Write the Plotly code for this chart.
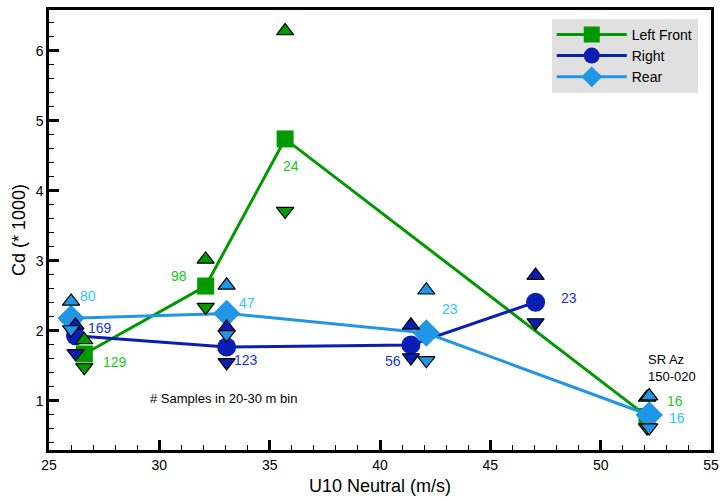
import plotly.graph_objects as go

# ---- data ----
lf_x = [26.6, 32.1, 35.7, 52.1]
lf_y = [1.67, 2.64, 4.74, 0.78]
lf_hi = [1.87, 3.02, 6.28, 1.05]
lf_lo = [1.48, 2.34, 3.71, 0.62]
lf_n = [129, 98, 24, 16]

rt_x = [26.2, 33.05, 41.4, 47.05]
rt_y = [1.93, 1.77, 1.80, 2.41]
rt_hi = [2.08, 2.05, 2.08, 2.79]
rt_lo = [1.68, 1.55, 1.62, 2.12]
rt_n = [169, 123, 56, 23]

rr_x = [26.0, 33.05, 42.1, 52.2]
rr_y = [2.18, 2.25, 1.97, 0.80]
rr_hi = [2.42, 2.65, 2.58, 1.07]
rr_lo = [2.02, 1.95, 1.58, 0.62]
rr_n = [80, 47, 23, 16]

x_ticks = [25, 30, 35, 40, 45, 50, 55]
y_ticks = [1, 2, 3, 4, 5, 6]

GREEN = "#009900"
DBLUE = "#0a1eb4"
LBLUE = "#2196e6"
GREEN_T = "#22c422"
DBLUE_T = "#2233cc"
LBLUE_T = "#1ec8ff"

FONT = "Liberation Sans, Arial, sans-serif"

series = [
    ("Left Front", lf_x, lf_y, lf_hi, lf_lo, lf_n, GREEN, GREEN_T, "square", 17,
     [(31, -8), (-27, 10), (6, -27), (28, 15)]),
    ("Right", rt_x, rt_y, rt_hi, rt_lo, rt_n, DBLUE, DBLUE_T, "circle", 19,
     [(25, 8), (19, -13), (-18, -16), (33, 4)]),
    ("Rear", rr_x, rr_y, rr_hi, rr_lo, rr_n, LBLUE, LBLUE_T, "diamond", 21,
     [(17, 22), (20, 10), (24, 24), (28, -3)]),
]

fig = go.Figure()

# main lines
for name, xs, ys, hi, lo, ns, col, tcol, sym, sz, offs in series:
    fig.add_trace(go.Scatter(
        x=xs, y=ys, mode="lines+markers", name=name,
        line=dict(color=col, width=3),
        marker=dict(symbol=sym, size=sz, color=col, line=dict(width=0)),
    ))

# bounds triangles
for name, xs, ys, hi, lo, ns, col, tcol, sym, sz, offs in series:
    fig.add_trace(go.Scatter(
        x=xs, y=hi, mode="markers", showlegend=False,
        marker=dict(symbol="triangle-up", size=15, color=col,
                    line=dict(color="black", width=1.2)),
    ))
    fig.add_trace(go.Scatter(
        x=xs, y=lo, mode="markers", showlegend=False,
        marker=dict(symbol="triangle-down", size=15, color=col,
                    line=dict(color="black", width=1.2)),
    ))

# sample count labels
for name, xs, ys, hi, lo, ns, col, tcol, sym, sz, offs in series:
    for xv, yv, n, (dx, dy) in zip(xs, ys, ns, offs):
        fig.add_annotation(x=xv, y=yv, text=str(n), showarrow=False,
                           xshift=dx, yshift=dy,
                           font=dict(family=FONT, size=14, color=tcol))

fig.add_annotation(x=32.9, y=1.03, text="# Samples in 20-30 m bin", showarrow=False,
                   font=dict(family=FONT, size=13, color="black"))
fig.add_annotation(x=52.05, y=1.47, text="SR Az<br>150-020", showarrow=False,
                   align="left", xanchor="left",
                   font=dict(family=FONT, size=13, color="black"))

fig.update_layout(
    width=726, height=502,
    margin=dict(l=49, r=10, t=7, b=52),
    paper_bgcolor="white", plot_bgcolor="white",
    font=dict(family=FONT, size=14, color="black"),
    showlegend=True,
    legend=dict(x=0.98, y=0.98, xanchor="right", yanchor="top",
                bgcolor="#e0e0e0", font=dict(size=14),
                itemwidth=70, tracegroupgap=4, borderwidth=0),
)
fig.update_xaxes(
    range=[25, 55], tickvals=x_ticks, ticktext=[str(v) for v in x_ticks],
    ticks="inside", ticklen=10, tickwidth=2.5, tickcolor="black",
    minor=dict(dtick=1, ticks="inside", ticklen=5, tickwidth=1.2, tickcolor="black"),
    showline=True, linecolor="black", linewidth=2.5, mirror=True,
    showgrid=False, zeroline=False,
    title=dict(text="U10 Neutral (m/s)", font=dict(size=18), standoff=8),
    tickfont=dict(size=14),
)
fig.update_yaxes(
    range=[0.3, 6.58], tickvals=y_ticks, ticktext=[str(v) for v in y_ticks],
    ticks="inside", ticklen=10, tickwidth=2.5, tickcolor="black",
    minor=dict(dtick=0.2, tick0=0, ticks="inside", ticklen=5, tickwidth=1.2, tickcolor="black"),
    showline=True, linecolor="black", linewidth=2.5, mirror=True,
    showgrid=False, zeroline=False,
    title=dict(text="Cd (* 1000)", font=dict(size=18), standoff=6),
    tickfont=dict(size=14),
)

fig.write_html("out.html")
